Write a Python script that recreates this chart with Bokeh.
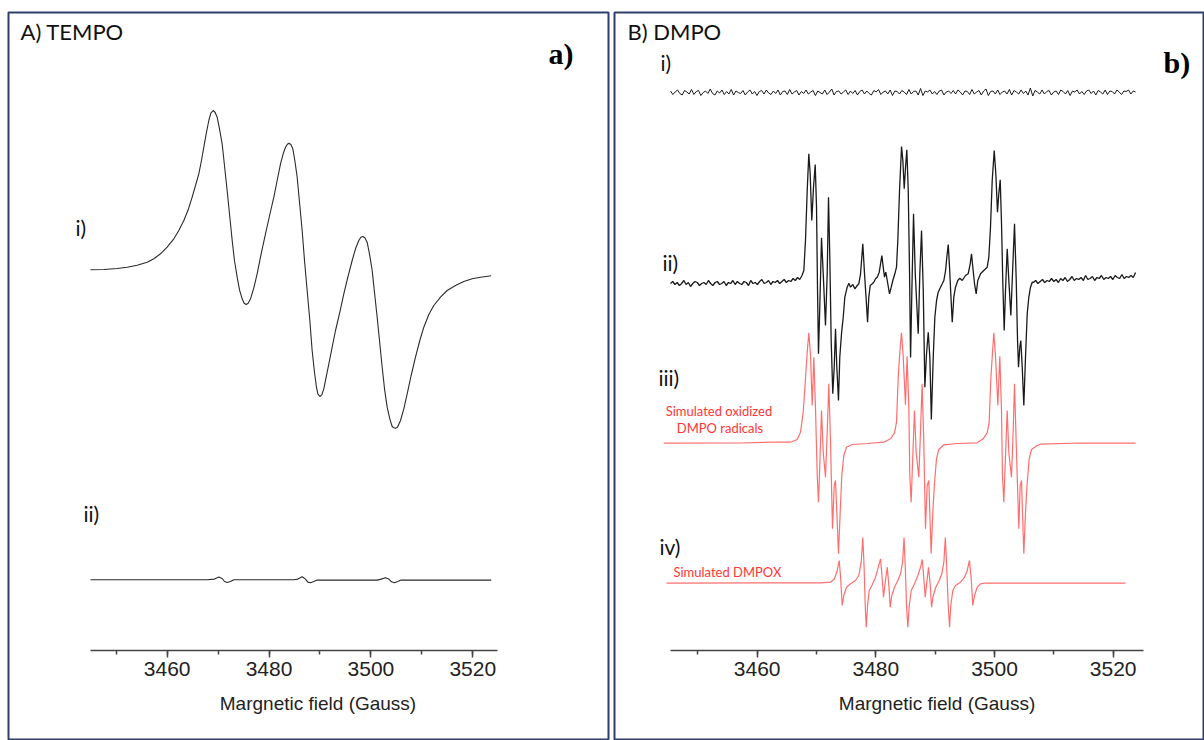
import numpy as np
from bokeh.plotting import figure
from bokeh.models import Range1d, LinearAxis, SingleIntervalTicker, Label
from bokeh.layouts import row
from bokeh.embed import file_html
from bokeh.resources import INLINE

# ---------------- data (field in Gauss, intensity in arbitrary units) ----------------
# Panel A, TEMPO i)
tempo1_field = [3444.94, 3447.56, 3450.18, 3452.14, 3454.10, 3456.07, 3457.38, 3458.68, 3459.99, 3461.30,
                3462.28, 3463.27, 3464.12, 3464.90, 3465.56, 3466.21, 3466.73, 3467.19, 3467.72, 3468.17,
                3468.57, 3469.03, 3469.42, 3469.81, 3470.27, 3470.79, 3471.25, 3471.77, 3472.30, 3472.76,
                3473.21, 3473.74, 3474.20, 3474.72, 3475.11, 3475.51, 3475.90, 3476.36, 3477.01, 3477.66,
                3478.45, 3479.30, 3480.15, 3480.94, 3481.59, 3482.25, 3482.77, 3483.23, 3483.56, 3483.88,
                3484.28, 3484.67, 3485.06, 3485.52, 3485.98, 3486.50, 3486.96, 3487.48, 3488.01, 3488.46,
                3488.92, 3489.31, 3489.58, 3489.97, 3490.36, 3490.75, 3491.21, 3491.74, 3492.39, 3493.05,
                3493.90, 3494.68, 3495.47, 3496.32, 3496.97, 3497.63, 3498.02, 3498.41, 3498.80, 3499.26,
                3499.72, 3500.25, 3500.70, 3501.23, 3501.75, 3502.21, 3502.67, 3503.19, 3503.71, 3504.17,
                3504.50, 3504.83, 3505.22, 3505.81, 3506.46, 3507.12, 3507.90, 3508.75, 3509.60, 3510.39,
                3511.37, 3512.35, 3513.66, 3514.97, 3516.61, 3518.24, 3519.88, 3521.52, 3523.61]
tempo1_int = [0.7, 1.0, 2.0, 3.3, 5.3, 8.3, 11.7, 16.7, 23.3, 31.7,
              40.0, 50.0, 60.7, 73.3, 85.0, 96.7, 110.0, 123.3, 138.3, 150.0,
              157.3, 160.0, 158.0, 153.3, 141.7, 126.7, 105.0, 80.0, 53.3, 30.0,
              10.0, -6.7, -19.3, -28.3, -32.7, -34.0, -32.7, -28.3, -17.3, -3.3,
              16.7, 36.7, 56.0, 73.3, 90.0, 106.7, 116.7, 123.3, 126.0, 127.3,
              126.0, 121.7, 110.0, 93.3, 68.3, 40.0, 10.0, -20.0, -50.0, -80.0,
              -101.7, -116.7, -123.3, -126.0, -124.3, -118.3, -106.7, -93.3, -76.7, -60.0,
              -41.7, -23.3, -6.7, 10.0, 21.7, 30.0, 33.3, 34.0, 32.7, 28.3,
              16.7, 0.0, -21.7, -46.7, -73.3, -96.7, -118.3, -136.7, -148.3, -156.0,
              -157.3, -157.7, -156.7, -150.0, -138.3, -123.3, -105.0, -86.7, -70.0, -56.7,
              -44.0, -35.0, -26.7, -20.0, -15.0, -11.0, -8.3, -6.7, -5.3]

# Panel A, TEMPO ii)
tempo2_field = [3444.94, 3467.85, 3469.29, 3470.14, 3470.79, 3471.25, 3471.77, 3472.43, 3473.08, 3484.86,
                3485.65, 3486.50, 3487.16, 3487.61, 3488.14, 3488.79, 3489.45, 3501.23, 3502.01, 3502.86,
                3503.52, 3504.04, 3504.63, 3505.28, 3505.94, 3523.61]
tempo2_int = [0, 0, 0.7, 2.7, 1.3, -1.7, -2.7, -1.7, 0, 0,
              0.7, 3, 0.7, -2.3, -3, -1.7, -0.3, -0.3, 0.7, 2,
              0.7, -2, -3, -1.7, -0.3, -0.3]

# Panel B, DMPO i) (noise only), equally spaced field points
dmpo1_field_range = (3445.39, 3523.77)
dmpo1_int = [1.5, -2, 0.5, 2.5, -1, -2.5, 2, 0.5, -1.5, 3, -2, 1, 2, -3, 0, 1.5, -1, 3.5, -1, -2.5,
             1.5, -0.5, 2.5, -2, 1, -1.5, 3, -2.5, 1.5, 0, -1, 2, -2.5, 0.5, 2.5, -1.5, 1, -3, 1, 2,
             -1.5, 2.5, -0.5, -2, 1.5, -1, 2.5, -2.5, 1, 1.5, -2, 3, -1.5, 0.5, 2, -2.5, 1, -1, 2.5, -1.5,
             0.5, 2, -3, 1.5, 0, -1.5, 2.5, -2, 0.5, 3.5, -2.5, 1, 1.5, -1.5, 0.5, 2.5, -2, 1.5, -1, 2,
             -2.5, 1, 2.5, -1.5, 1.5, -1, -2.5, 2, 0.5, 3, -2, 0.5, 1.5, -1.5, 2.5, -3, 1.5, 1, -1.5, 2,
             0.5, -2, 3, -1.5, 1, 1.5, -2.5, 4, -3, 1.5, 0.5, 2.5, -1.5, 1, -2, 1.5, 2.5, -2.5, 0.5, 1.5,
             -1, 2, -1.5, 2.5, 0.5, -2.5, 1.5, 1, -2, 3, -1.5, 0.5, 2, -2.5, 1.5, 3.5, -3, 1, 1.5, -1.5,
             2.5, -2, 0.5, 1.5, -1.5, 3, -2.5, 2, 0.5, -1.5, 2.5, -1, 1.5, -2.5, 4.5, -3.5, 2, 0.5, -1.5, 2.5,
             -1.5, 1, 2, -2.5, 0.5, 1.5, -2, 2.5, 1, -1.5, 2, -3, 1.5, 0.5, 2.5, -1.5, 1, -2, 1.5, 2.5,
             -1, 1.5, -2.5, 2, 0.5, -1.5, 2.5, -2, 1.5, 1, -1.5, 2.5, 0.5, -2, 1.5, 1, 2.5, -1.5, 1.5, 0.5]

# Panel B, DMPO ii) measured spectrum
dmpo2_left_range = (3445.39, 3467.55)
dmpo2_left_int = [0, 2, -1, 1, -2, 0, 3, -1, 1, -3, 0, 2, 1, -2, 0, 1, -1, 3, 0, -2,
                  1, 2, -1, 0, 2, -2, 1, 0, 3, -1, 2, 0, -1, 2, 1, -2, 3, 0, 1, -1,
                  2, 4, 0, 1, 3, -1, 2, 1, 3, 0, 2, 4, 1, 3, 2, 5, 3, 6, 4, 8]
dmpo2_field = [3467.86, 3468.14, 3468.43, 3468.70, 3468.93, 3469.20, 3469.49, 3469.78, 3470.00, 3470.17,
               3470.33, 3470.55, 3470.84, 3471.13, 3471.51, 3471.80, 3472.02, 3472.24, 3472.47, 3472.74,
               3472.98, 3473.20, 3473.42, 3473.70, 3473.92, 3474.21, 3474.50, 3474.77, 3475.17, 3475.44,
               3475.73, 3476.12, 3476.46, 3476.86, 3477.13, 3477.42, 3477.80, 3478.09, 3478.38, 3478.60,
               3478.81, 3479.05, 3479.39, 3479.66, 3479.94, 3480.23, 3480.57, 3480.79, 3481.01, 3481.24,
               3481.46, 3481.68, 3481.92, 3482.30, 3482.59, 3482.86, 3483.20, 3483.48, 3483.70, 3483.99,
               3484.33, 3484.55, 3484.78, 3485.00, 3485.22, 3485.46, 3485.68, 3485.85, 3486.07, 3486.35,
               3486.64, 3487.14, 3487.41, 3487.70, 3487.99, 3488.26, 3488.54, 3488.83, 3489.10, 3489.35,
               3489.67, 3489.94, 3490.23, 3490.51, 3490.90, 3491.19, 3491.46, 3491.75, 3491.96, 3492.20,
               3492.42, 3492.63, 3492.87, 3493.14, 3493.42, 3493.81, 3494.15, 3494.55, 3495.11, 3495.56,
               3495.90, 3496.12, 3496.34, 3496.63, 3496.91, 3497.18, 3497.64, 3498.19, 3498.77, 3499.04,
               3499.32, 3499.61, 3499.95, 3500.22, 3500.50, 3500.72, 3500.96, 3501.18, 3501.40, 3501.63,
               3501.85, 3502.14, 3502.41, 3502.75, 3503.03, 3503.37, 3503.66, 3503.88, 3504.04, 3504.26,
               3504.43, 3504.67, 3504.94, 3505.22, 3505.51, 3505.78, 3506.07, 3506.35]
dmpo2_int = [13, 43, 93, 129.7, 109.7, 63, 96.3, 119, 76.3, -7,
             -70.3, -23.7, 45.7, 9.7, -42, 9.7, 86.3, 26.3, -57, -110.3,
             -83.7, -45.3, -83.7, -117, -73.7, -50.3, -33.7, -13.7, -3.7, 0.3,
             -3.7, -1, -5.3, -2, -0.3, 9.7, 39.7, 9.7, -17, -38.7,
             -13.7, -2, -0.3, 1.3, 4.7, 6.3, 11.3, 19.7, 28, 16.3,
             6.3, 11.3, 3, -10.3, -3.7, 3, 9.7, 16.3, 43, 93,
             137, 123, 94.7, 116.3, 133.7, 93, 9.7, -74, -7, 69.7,
             9.7, -50.3, 9.7, 53, -7, -103.7, -70.3, -48.7, -73.7, -136,
             -73.7, -33.7, -17, -8.7, -3.7, -0.3, 3, 13, 26.3, 39,
             16.3, -10.3, -38.7, -13.7, -3.7, 3, 5.3, 3, 8, 9.7,
             19.7, 29.7, 16.3, -0.3, -10.3, 3, 9.7, 13, 16.3, 26.3,
             56.3, 103, 133, 109.7, 71.3, 89.7, 103.7, 59.7, -0.3, -47,
             -7, 34.7, 3, -32, 9.7, 59.7, 3, -57, -83.7, -63.7,
             -57, -83.7, -122, -73.7, -30.3, -13.7, -3.7, 1.3]
dmpo2_right_range = (3506.55, 3523.77)
dmpo2_right_int = [1, 3, 0, 2, 4, 1, 3, 2, 5, 2, 4, 1, 5, 3, 6, 2, 4, 7, 3, 5,
                   4, 6, 3, 8, 4, 5, 7, 3, 6, 5, 8, 4, 6, 5, 7, 4, 8, 6, 5, 9,
                   5, 7, 6, 8, 6, 11]

# Panel B, iii) simulated oxidized DMPO radicals (three line groups)
sim1_field = [3444.26, 3457.19, 3463.93, 3465.61, 3466.74, 3467.30, 3467.76, 3468.14, 3468.43, 3468.70,
              3468.99, 3469.27, 3469.54, 3469.83, 3470.12, 3470.33, 3470.55, 3470.84, 3471.13, 3471.51,
              3471.80, 3472.07, 3472.36, 3472.69, 3472.98, 3473.20, 3473.42, 3473.70, 3473.99, 3474.26,
              3474.60, 3475.05, 3476.01, 3478.55, 3481.34]
sim1_int = [-0.7, -0.5, 0.5, 0.3, 3, 10.3, 30.3, 63.7, 90.3, 109.7,
            87, 37, 85.3, 33.7, -33, -59.7, -23, 32, -9.7, -34.7,
            10.3, 58.7, 0.3, -86.3, -43, -38, -69.7, -111.3, -69.7, -33,
            -13, -4.7, -2, -1, 0.3]
sim2_field = [3482.47, 3483.14, 3483.48, 3483.76, 3484.04, 3484.32, 3484.60, 3484.99, 3485.27, 3485.56,
              3485.72, 3485.95, 3486.17, 3486.51, 3486.79, 3487.24, 3487.52, 3487.80, 3488.08, 3488.36,
              3488.65, 3488.93, 3489.09, 3489.32, 3489.60, 3489.88, 3490.22, 3490.61, 3491.45, 3493.70,
              3497.07, 3498.08, 3498.76]
sim2_int = [3.7, 9.7, 20.3, 63.7, 90.3, 109.7, 87, 37.7, 86.3, 33.7,
            -33, -59.7, -23, 32, -9.7, -34.7, 10.3, 58.7, 0.3, -86.3,
            -43, -38, -69.7, -111.3, -69.7, -41.3, -16.3, -7, -2.3, -1,
            -0.3, 3.7, 9.7]
sim3_field = [3499.10, 3499.38, 3499.66, 3499.88, 3500.16, 3500.56, 3500.89, 3501.17, 3501.34, 3501.57,
              3501.79, 3502.13, 3502.41, 3502.86, 3503.14, 3503.37, 3503.65, 3504.10, 3504.32, 3504.55,
              3504.71, 3504.94, 3505.22, 3505.50, 3505.84, 3506.23, 3507.19, 3507.75, 3514.50, 3523.77]
sim3_int = [20.3, 63.7, 90.3, 109.7, 87, 37, 86.3, 33.7, -33, -59.7,
            -23, 32, -9.7, -34.7, 10.3, 58.7, 0.3, -86.3, -43, -38,
            -69.7, -111.3, -69.7, -41.3, -16.3, -7, -3, -1.7, -0.5, -0.7]

# Panel B, iv) simulated DMPOX
dmpox_field = [3444.71, 3470.67, 3472.36, 3473.03, 3473.49, 3473.82, 3474.04, 3474.33, 3474.60, 3475.05,
               3475.73, 3476.57, 3477.13, 3477.53, 3477.80, 3478.01, 3478.21, 3478.38, 3478.60, 3478.88,
               3479.39, 3479.94, 3480.33, 3480.79, 3481.07, 3481.29, 3481.58, 3481.92, 3482.19, 3482.42,
               3482.69, 3483.14, 3483.70, 3484.16, 3484.50, 3484.75, 3484.95, 3485.17, 3485.39, 3485.63,
               3485.96, 3486.52, 3487.08, 3487.53, 3487.82, 3488.09, 3488.32, 3488.59, 3488.88, 3489.17,
               3489.39, 3489.67, 3490.11, 3490.68, 3491.12, 3491.46, 3491.71, 3491.93, 3492.20, 3492.42,
               3492.63, 3492.97, 3493.42, 3494.27, 3494.94, 3495.40, 3495.78, 3496.07, 3496.34, 3496.63,
               3497.08, 3497.64, 3498.48, 3522.08]
dmpox_int = [-0.2, 0.2, 0.8, 4.2, 12.5, 22.5, 7.5, -22.5, -12.5, -4.2,
             -0.8, 2.5, 7.5, 20.8, 45.5, 17.5, -22.5, -44.2, -22.5, -7.5,
             -1.8, 5.8, 14.2, 24.2, 4.2, -14.2, 0.8, 15.8, -2.5, -24.2,
             -12.5, -4.2, 2.5, 9.2, 20.8, 45.5, 17.5, -22.5, -44.2, -22.5,
             -7.5, -0.8, 7.5, 15.8, 23.5, 4.2, -14.2, 0.8, 15.8, -2.5,
             -24.2, -12.5, -4.2, 2.5, 9.2, 20.8, 45.5, 17.5, -22.5, -44.2,
             -22.5, -7.5, -2.5, 0.8, 5.8, 12.5, 22.5, 4.2, -22.5, -12.5,
             -4.2, -0.8, 0, -0.2]

# vertical stacking offsets of the traces (a.u.)
offset_tempo1, offset_tempo2 = 380.0, 70.7
offset_dmpo1, offset_dmpo2, offset_sim, offset_dmpox = 558.0, 367.0, 208.0, 67.5

tick_interval = 20
axis_title = "Margnetic field (Gauss)"

# ---------------- styling ----------------
BORDER = "#2F3E6B"
BLACK = "#1a1a1a"
RED_LINE = "#FF6E6E"
RED_TEXT = "#FF3535"
LABEL_FONT = "Lato"
AXIS_FONT = "Liberation Sans"


def make_panel(width, border_left, border_right, xr, bounds):
    p = figure(width=width, height=740, output_backend="svg", toolbar_location=None,
               x_range=Range1d(*xr), y_range=Range1d(-90, 638),
               x_axis_location=None, y_axis_location=None,
               min_border_left=border_left, min_border_right=border_right,
               min_border_top=12, min_border_bottom=0)
    p.grid.visible = False
    p.outline_line_color = BORDER
    p.outline_line_width = 2
    p.background_fill_color = "white"
    p.border_fill_color = "white"
    ax = LinearAxis(fixed_location=0, bounds=bounds,
                    ticker=SingleIntervalTicker(interval=tick_interval, num_minor_ticks=2))
    ax.axis_line_color = "#444444"
    ax.axis_line_width = 1.5
    ax.major_tick_line_color = "#444444"
    ax.major_tick_line_width = 1.5
    ax.minor_tick_line_color = "#444444"
    ax.minor_tick_line_width = 1.5
    ax.major_tick_in = 0
    ax.major_tick_out = 7
    ax.minor_tick_in = 0
    ax.minor_tick_out = 4
    ax.major_label_text_font = AXIS_FONT
    ax.major_label_text_font_size = "21px"
    ax.major_label_text_color = "#222222"
    ax.major_label_standoff = 4
    p.add_layout(ax, "below")
    return p


def add_label(p, x, y, text, size, color="#111111", font=LABEL_FONT, style="normal", align="left"):
    p.add_layout(Label(x=x, y=y, text=text, text_font=font, text_font_size=size,
                       text_color=color, text_font_style=style, text_align=align,
                       text_baseline="middle"))


# ---------------- Panel A: TEMPO ----------------
pa = make_panel(611, 8, 3, (3428.84, 3546.65), (3444.95, 3524.8))
pa.line(tempo1_field, [v + offset_tempo1 for v in tempo1_int], line_color="#2b2b2b", line_width=1.1)
pa.line(tempo2_field, [v + offset_tempo2 for v in tempo2_int], line_color="#2b2b2b", line_width=1.1)
add_label(pa, 3431.2, 619, "A) TEMPO", "22px")
add_label(pa, 3534.87, 597, "a)", "30px", color="#000000", font="Liberation Serif", style="bold")
add_label(pa, 3442.0, 423.5, "i)", "21px")
add_label(pa, 3443.57, 137, "ii)", "21px")
add_label(pa, 3489.61, -53, axis_title, "19px", color="#222222", font=AXIS_FONT, align="center")

# ---------------- Panel B: DMPO ----------------
pb = make_panel(593, 3, 0, (3435.95, 3535.39), (3445.4, 3525.05))

f1 = np.linspace(dmpo1_field_range[0], dmpo1_field_range[1], len(dmpo1_int))
pb.line(f1, [v + offset_dmpo1 for v in dmpo1_int], line_color=BLACK, line_width=1.0)

fl = np.linspace(dmpo2_left_range[0], dmpo2_left_range[1], len(dmpo2_left_int))
fr = np.linspace(dmpo2_right_range[0], dmpo2_right_range[1], len(dmpo2_right_int))
d2_field = list(fl) + dmpo2_field + list(fr)
d2_int = dmpo2_left_int + dmpo2_int + dmpo2_right_int
pb.line(d2_field, [v + offset_dmpo2 for v in d2_int], line_color=BLACK, line_width=1.3)

sim_field = sim1_field + sim2_field + sim3_field
sim_int = sim1_int + sim2_int + sim3_int
pb.line(sim_field, [v + offset_sim for v in sim_int], line_color=RED_LINE, line_width=1.2)
pb.line(dmpox_field, [v + offset_dmpox for v in dmpox_int], line_color=RED_LINE, line_width=1.2)

add_label(pb, 3438.14, 619, "B) DMPO", "22px")
add_label(pb, 3528.48, 588, "b)", "30px", color="#000000", font="Liberation Serif", style="bold")
add_label(pb, 3443.70, 588, "i)", "21px")
add_label(pb, 3444.04, 388, "ii)", "21px")
add_label(pb, 3443.36, 273, "iii)", "21px")
add_label(pb, 3443.53, 104, "iv)", "21px")
add_label(pb, 3453.56, 239.3, "Simulated oxidized", "13px", color=RED_TEXT, align="center")
add_label(pb, 3453.73, 223, "DMPO radicals", "13px", color=RED_TEXT, align="center")
add_label(pb, 3445.89, 78.3, "Simulated DMPOX", "13px", color=RED_TEXT)
add_label(pb, 3490.31, -53, axis_title, "19px", color="#222222", font=AXIS_FONT, align="center")

layout = row(pa, pb)
open("out.html", "w").write(file_html(layout, INLINE))
